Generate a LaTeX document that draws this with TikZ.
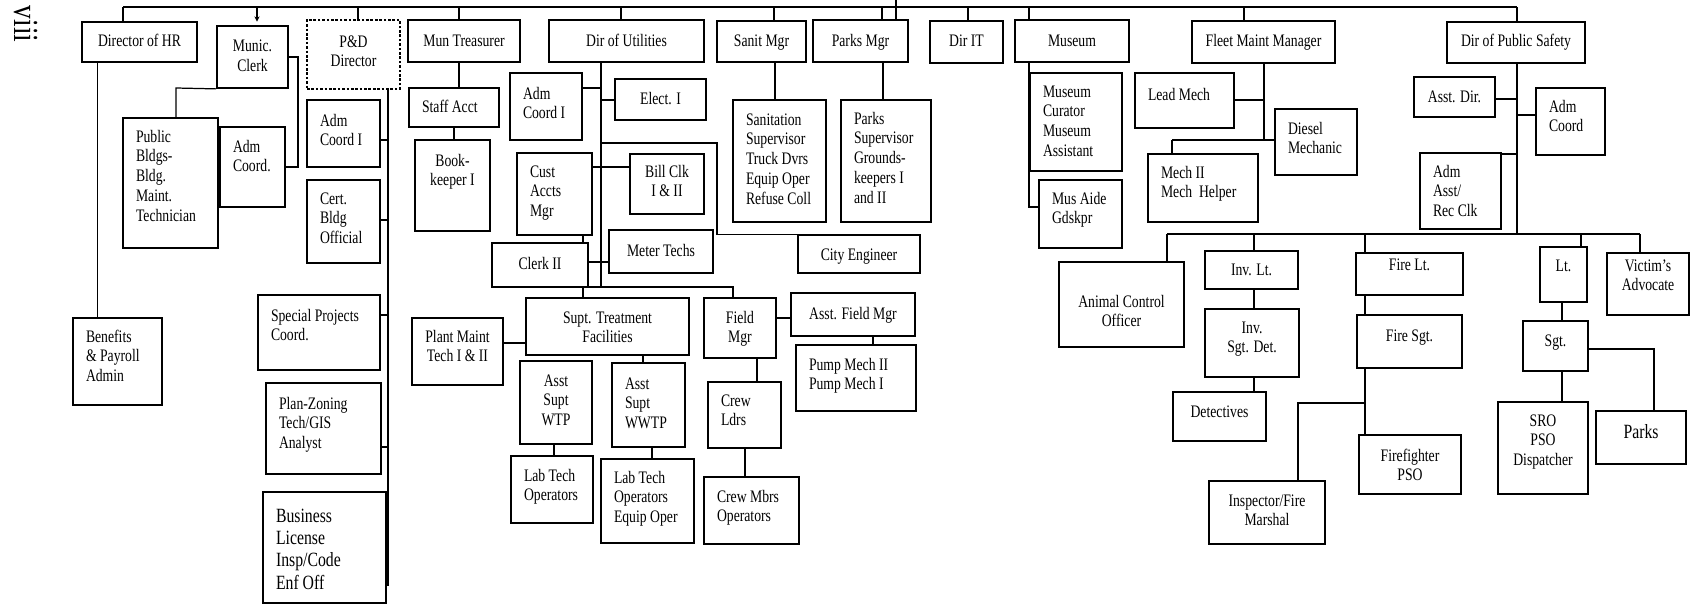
\documentclass[tikz,border=0pt]{standalone}
\usepackage{fontspec}
\setmainfont{Liberation Serif}[FakeStretch=0.78]
\usetikzlibrary{arrows.meta}
\newdimen\pxu \pxu=0.02cm
\newcommand\alL{\raggedright\leftskip=13\pxu\relax}
\newcommand\alC{\centering}
% #1 opts, #2 name, #3 x1, #4 y1, #5 x2, #6 y2, #7 align, #8 first baseline y, #9 text
\newcommand\bx[9]{%
  \node[box,#1] (#2) at ({(#3+#5)/2},{(#4+#6)/2})
  {\parbox[c][\dimexpr#6\pxu-#4\pxu\relax][t]{\dimexpr#5\pxu-#3\pxu\relax}{%
    \vskip\dimexpr#8\pxu-#4\pxu-\ht\strutbox\relax#7\strut#9\par}};}
\tikzset{
  box/.style={draw, line width=1pt, inner sep=0pt, font=\fontsize{10}{11.3}\selectfont},
  lnk/.style={line width=0.7pt},
  busline/.style={line width=1pt},
  big/.style={font=\fontsize{11.5}{12.8}\selectfont},
  dotbox/.style={line width=0.6pt, dash pattern=on 1.5pt off 1pt}
}
\begin{document}
\begin{tikzpicture}[x=0.02cm, y=-0.02cm]
\useasboundingbox (0,0) rectangle (1691,605);
\fill[white] (0,0) rectangle (1691,605);

\node[rotate=-90, font=\fontsize{20}{20}\selectfont] (pg) at (26,24) {viii};

% ---- boxes ----
\bx{}{hr}{82}{22}{197}{62}{\alC}{46}{Director of HR}
\bx{}{clerk}{217}{26}{288}{88}{\alC}{52}{Munic.\\Clerk}
\bx{dotbox}{pd}{307}{20}{400}{89}{\alC}{47}{P\&D\\Director}
\bx{}{pub}{123}{118}{218}{248}{\alL}{142}{Public\\Bldgs-\\Bldg.\\Maint.\\Technician}
\bx{}{admc}{220}{127}{285}{207}{\alL}{152}{Adm\\Coord.}
\bx{}{pdadm}{307}{100}{380}{167}{\alL}{126}{Adm\\Coord I}
\bx{}{cert}{307}{180}{380}{263}{\alL}{204}{Cert.\\Bldg\\Official}
\bx{}{ben}{73}{318}{162}{405}{\alL}{342}{Benefits\\\& Payroll\\Admin}
\bx{}{spc}{258}{295}{380}{370}{\alL}{321}{Special Projects\\Coord.}
\bx{}{plan}{266}{383}{381}{474}{\alL}{409}{Plan-Zoning\\Tech/GIS\\Analyst}
\bx{big}{biz}{263}{492}{386}{603}{\alL}{522}{Business\\License\\Insp/Code\\Enf Off}

\bx{}{tre}{408}{20}{520}{62}{\alC}{46}{Mun Treasurer}
\bx{}{stf}{409}{88}{499}{127}{\alL}{112}{Staff Acct}
\bx{}{bk}{415}{140}{490}{231}{\alC}{166}{Book-\\keeper I}
\bx{}{dou}{549}{20}{704}{62}{\alC}{46}{Dir of Utilities}
\bx{}{uadm}{510}{73}{582}{140}{\alL}{99}{Adm\\Coord I}
\bx{}{ele}{615}{79}{706}{120}{\alC}{104}{Elect. I}
\bx{}{cam}{517}{153}{592}{235}{\alL}{177}{Cust\\Accts\\Mgr}
\bx{}{bill}{630}{154}{704}{214}{\alC}{177}{Bill Clk\\I \& II}
\bx{}{clk}{492}{243}{588}{287}{\alC}{269}{Clerk II}
\bx{}{mt}{609}{230}{713}{273}{\alC}{256}{Meter Techs}
\bx{}{san}{717}{21}{806}{62}{\alC}{46}{Sanit Mgr}
\bx{}{sans}{733}{100}{826}{222}{\alL}{125}{Sanitation\\Supervisor\\Truck Dvrs\\Equip Oper\\Refuse Coll}
\bx{}{pm}{813}{20}{908}{62}{\alC}{46}{Parks Mgr}
\bx{}{pks}{841}{100}{931}{222}{\alL}{124}{Parks\\Supervisor\\Grounds-\\keepers I\\and II}
\bx{}{ceng}{798}{235}{920}{273}{\alC}{260}{City Engineer}
\bx{}{dit}{930}{21}{1003}{63}{\alC}{46}{Dir IT}
\bx{}{mus}{1015}{20}{1129}{62}{\alC}{46}{Museum}
\bx{}{cur}{1030}{73}{1122}{171}{\alL}{97}{Museum\\Curator\\Museum\\Assistant}
\bx{}{aide}{1039}{180}{1122}{248}{\alL}{204}{Mus Aide\\Gdskpr}
\bx{}{fleet}{1192}{21}{1335}{63}{\alC}{46}{Fleet Maint Manager}
\bx{}{lead}{1135}{73}{1234}{128}{\alL}{100}{Lead Mech}
\bx{}{dsl}{1275}{109}{1357}{175}{\alL}{134}{Diesel\\Mechanic}
\bx{}{mech}{1148}{154}{1258}{222}{\alL}{178}{Mech II\\Mech\ \ Helper}
\bx{}{dps}{1447}{22}{1585}{63}{\alC}{46}{Dir of Public Safety}
\bx{}{adir}{1414}{77}{1495}{117}{\alC}{102}{Asst. Dir.}
\bx{}{apc}{1536}{88}{1605}{155}{\alL}{112}{Adm\\Coord}
\bx{}{aaa}{1420}{153}{1501}{229}{\alL}{177}{Adm\\Asst/\\Rec Clk}

\bx{}{trt}{526}{298}{689}{355}{\alC}{323}{Supt. Treatment\\Facilities}
\bx{}{pmt}{412}{318}{503}{385}{\alC}{342}{Plant Maint\\Tech I \& II}
\bx{}{wtp}{520}{361}{592}{444}{\alC}{386}{Asst\\Supt\\WTP}
\bx{}{wwtp}{612}{363}{685}{447}{\alL}{389}{Asst\\Supt\\WWTP}
\bx{}{lab1}{511}{456}{593}{523}{\alL}{481}{Lab Tech\\Operators}
\bx{}{lab2}{601}{459}{694}{543}{\alL}{483}{Lab Tech\\Operators\\Equip Oper}
\bx{}{fm}{704}{298}{776}{358}{\alC}{323}{Field\\Mgr}
\bx{}{afm}{791}{293}{915}{336}{\alC}{319}{Asst. Field Mgr}
\bx{}{pump}{796}{345}{916}{411}{\alL}{370}{Pump Mech II\\Pump Mech I}
\bx{}{crl}{708}{382}{781}{448}{\alL}{406}{Crew\\Ldrs}
\bx{}{crm}{704}{477}{799}{544}{\alL}{502}{Crew Mbrs\\Operators}

\bx{}{aco}{1059}{262}{1184}{347}{\alC}{307}{Animal Control\\Officer}
\bx{}{invlt}{1205}{251}{1298}{289}{\alC}{275}{Inv. Lt.}
\bx{}{isd}{1205}{309}{1299}{377}{\alC}{333}{Inv.\\Sgt. Det.}
\bx{}{det}{1173}{392}{1266}{441}{\alC}{417}{Detectives}
\bx{}{flt}{1356}{253}{1463}{295}{\alC}{270}{Fire Lt.}
\bx{}{fsg}{1357}{315}{1462}{368}{\alC}{341}{Fire Sgt.}
\bx{}{ff}{1359}{435}{1461}{494}{\alC}{461}{Firefighter\\PSO}
\bx{}{ifm}{1209}{481}{1325}{544}{\alC}{506}{Inspector/Fire\\Marshal}
\bx{}{lt}{1540}{247}{1587}{302}{\alC}{271}{Lt.}
\bx{}{va}{1607}{253}{1689}{315}{\alC}{271}{Victim's\\Advocate}
\bx{}{sgt}{1523}{321}{1588}{371}{\alC}{346}{Sgt.}
\bx{}{sro}{1498}{402}{1588}{494}{\alC}{426}{SRO\\PSO\\Dispatcher}
\bx{big}{pk}{1596}{411}{1686}{464}{\alC}{438}{Parks}

% ---- top bus ----
\coordinate (b0) at (123,7);
\coordinate (bN) at (1517,7);
\draw[busline] (b0) -- (bN);
\foreach \xx/\nn in {123/hr,358/pd,459/tre,621/dou,774/san,882/pm,968/dit,1029/mus,1244/fleet,1517/dps}{
  \coordinate (tt) at (\xx,7);
  \draw[lnk] (tt) -- (tt |- \nn.north);
}
\coordinate (tc) at (257,7);
\draw[lnk,-{Stealth[length=3pt,width=3pt]},shorten >=2pt] (tc) -- (tc |- clerk.north);
\coordinate (top0) at (896,0);
\draw[line width=1.6pt] (top0) -- (top0 |- pm.north);

% ---- HR / Clerk / P&D ----
\coordinate (h1) at (97,62);
\draw[line width=0.5pt] (h1) -- (h1 |- ben.north);
\coordinate (c1) at (176,88);
\draw[lnk] (clerk.south west) -- (c1) -- (c1 |- pub.north);
\coordinate (c2) at (298,100);
\draw[lnk] (clerk.east) -| (c2) |- (admc.east);
\coordinate (p1) at (388,89);
\coordinate (p2) at (388,585);
\draw[lnk] (p1) -- (p2) -- (p2 -| biz.east);
\coordinate (p3) at (388,140);
\draw[lnk] (p3) -- (p3 -| pdadm.east);
\coordinate (p4) at (388,220);
\draw[lnk] (p4) -- (p4 -| cert.east);
\coordinate (p5) at (388,315);
\draw[lnk] (p5) -- (p5 -| spc.east);
\coordinate (p6) at (388,447);
\draw[lnk] (p6) -- (p6 -| plan.east);

% ---- Treasurer ----
\coordinate (t1) at (459,62);
\draw[lnk] (t1) -- (t1 |- stf.north);
\coordinate (t2) at (454,127);
\draw[lnk] (t2) -- (t2 |- bk.north);

% ---- Utilities ----
\coordinate (u0) at (601,62);
\coordinate (u1) at (601,287);
\draw[lnk] (u0) -- (u1);
\coordinate (u2) at (601,88);
\draw[lnk] (u2) -- (u2 -| uadm.east);
\coordinate (u2b) at (601,100);
\draw[lnk] (u2b) -- (u2b -| ele.west);
\coordinate (u3) at (601,143);
\coordinate (u4) at (717,143);
\draw[lnk] (u3) -- (u4) |- (ceng.north west);
\coordinate (u5) at (601,167);
\draw[lnk] (u5 -| cam.east) -- (u5 -| bill.west);
\coordinate (u6) at (583,235);
\draw[lnk] (u6) -- (u6 |- clk.north);
\coordinate (u7) at (601,262);
\draw[lnk] (u7 -| clk.east) -- (u7 -| mt.west);
\coordinate (u8) at (583,287);
\coordinate (u9) at (733,287);
\draw[lnk] (u8) -- (u9) -- (u9 |- fm.north);
\draw[lnk] (u8) -- (u8 |- trt.north);
\coordinate (u10) at (515,343);
\draw[lnk] (u10 -| pmt.east) -- (u10 -| trt.west);
\coordinate (u11) at (643,355);
\draw[lnk] (u11) -- (u11 |- wwtp.north);
\coordinate (u12) at (554,444);
\draw[lnk] (u12) -- (u12 |- lab1.north);
\coordinate (u13) at (652,447);
\draw[lnk] (u13) -- (u13 |- lab2.north);
\coordinate (u14) at (780,318);
\draw[lnk] (u14 -| fm.east) -- (u14 -| afm.west);
\coordinate (u15) at (873,336);
\draw[lnk] (u15) -- (u15 |- pump.north);
\coordinate (u16) at (757,358);
\draw[lnk] (u16) -- (u16 |- crl.north);
\coordinate (u17) at (745,448);
\draw[lnk] (u17) -- (u17 |- crm.north);

% ---- Sanitation / Parks ----
\coordinate (s1) at (775,62);
\draw[lnk] (s1) -- (s1 |- sans.north);
\coordinate (k1) at (883,62);
\draw[lnk] (k1) -- (k1 |- pks.north);

% ---- Museum ----
\coordinate (m1) at (1029,62);
\coordinate (m2) at (1029,207);
\draw[lnk] (m1) -- (m2) -- (m2 -| aide.west);

% ---- Fleet ----
\coordinate (f1) at (1264,63);
\coordinate (f2) at (1264,140);
\draw[lnk] (f1) -- (f2);
\coordinate (f3) at (1264,100);
\draw[lnk] (f3) -- (f3 -| lead.east);
\coordinate (f4) at (1172,140);
\draw[lnk] (f4) -- (f4 -| dsl.west);
\draw[lnk] (f4) -- (f4 |- mech.north);

% ---- Public Safety ----
\coordinate (q0) at (1517,63);
\coordinate (q1) at (1517,234);
\draw[lnk] (q0) -- (q1);
\coordinate (q2) at (1517,99);
\draw[lnk] (q2) -- (q2 -| adir.east);
\coordinate (q3) at (1517,115);
\draw[lnk] (q3) -- (q3 -| apc.west);
\coordinate (q4) at (1517,154);
\draw[lnk] (q4) -- (q4 -| aaa.east);
\coordinate (r0) at (1167,234);
\coordinate (r1) at (1640,234);
\draw[busline] (r0) -- (r1);
\foreach \xx/\nn in {1167/aco,1254/invlt,1365/flt,1581/lt,1640/va}{
  \coordinate (rr) at (\xx,234);
  \draw[lnk] (rr) -- (rr |- \nn.north);
}
\coordinate (r5) at (1254,289);
\draw[lnk] (r5) -- (r5 |- isd.north);
\coordinate (r6) at (1254,377);
\draw[lnk] (r6) -- (r6 |- det.north);
\coordinate (r7) at (1365,295);
\draw[lnk] (r7) -- (r7 |- fsg.north);
\coordinate (r8) at (1365,368);
\draw[lnk] (r8) -- (r8 |- ff.north);
\coordinate (r9) at (1365,403);
\coordinate (r10) at (1298,403);
\draw[lnk] (r9) -- (r10) -- (r10 |- ifm.north);
\coordinate (r11) at (1562,302);
\draw[lnk] (r11) -- (r11 |- sgt.north);
\coordinate (r12) at (1562,371);
\draw[lnk] (r12) -- (r12 |- sro.north);
\coordinate (r13) at (1654,349);
\draw[lnk] (r13 -| sgt.east) -- (r13) -- (r13 |- pk.north);
\end{tikzpicture}
\end{document}
